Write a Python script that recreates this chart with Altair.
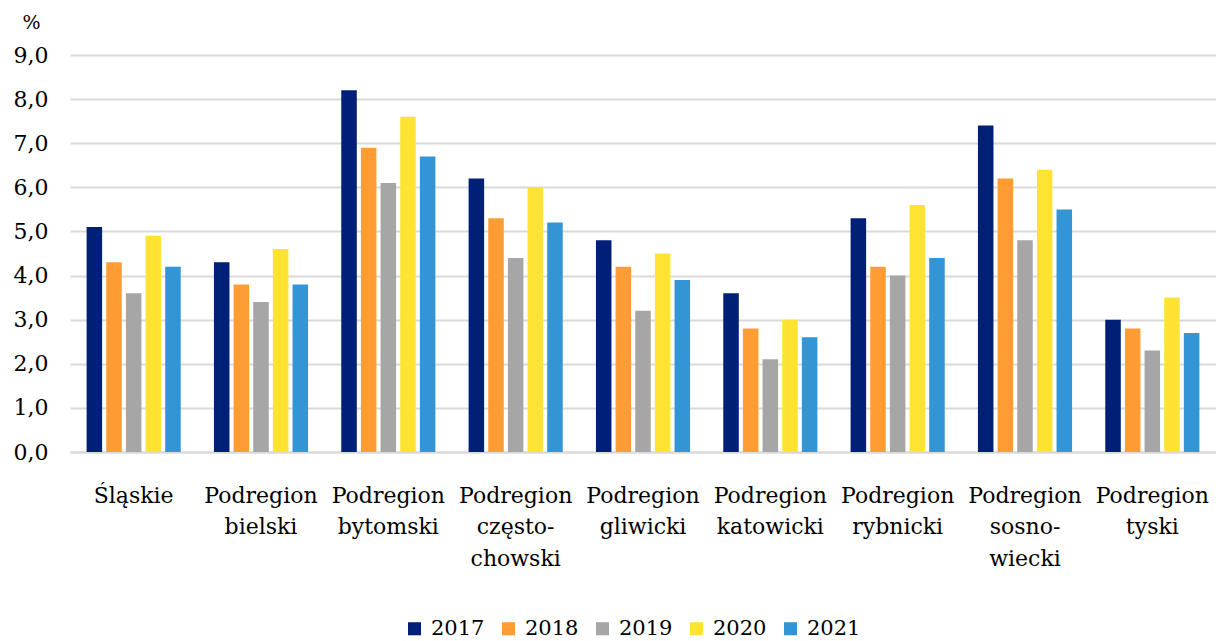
import altair as alt
import pandas as pd

categories = ["Śląskie", "Podregion|bielski", "Podregion|bytomski", "Podregion|często-|chowski",
              "Podregion|gliwicki", "Podregion|katowicki", "Podregion|rybnicki",
              "Podregion|sosno-|wiecki", "Podregion|tyski"]
years = ["2017", "2018", "2019", "2020", "2021"]
v2017 = [5.1, 4.3, 8.2, 6.2, 4.8, 3.6, 5.3, 7.4, 3.0]
v2018 = [4.3, 3.8, 6.9, 5.3, 4.2, 2.8, 4.2, 6.2, 2.8]
v2019 = [3.6, 3.4, 6.1, 4.4, 3.2, 2.1, 4.0, 4.8, 2.3]
v2020 = [4.9, 4.6, 7.6, 6.0, 4.5, 3.0, 5.6, 6.4, 3.5]
v2021 = [4.2, 3.8, 6.7, 5.2, 3.9, 2.6, 4.4, 5.5, 2.7]
colors = ["#002077", "#FF9C33", "#A6A6A6", "#FFE333", "#3395D5"]

rows = []
for y, vals in zip(years, [v2017, v2018, v2019, v2020, v2021]):
    for c, v in zip(categories, vals):
        rows.append({"region": c, "year": y, "value": v})
df = pd.DataFrame(rows)

FONT = "DejaVu Serif"

chart = alt.Chart(df).mark_bar().encode(
    x=alt.X("region:N", sort=categories, title=None,
            scale=alt.Scale(paddingInner=0.23, paddingOuter=0.115),
            axis=alt.Axis(labelAngle=0, labelExpr="split(datum.label, '|')",
                          labelFont=FONT, labelFontSize=22, labelColor="black",
                          labelLineHeight=31.5, labelPadding=33, labelBaseline="top",
                          ticks=False, domain=True, domainColor="#D9D9D9", domainWidth=2,
                          grid=False)),
    xOffset=alt.XOffset("year:N", sort=years,
                        scale=alt.Scale(paddingInner=0.21, paddingOuter=0.1)),
    y=alt.Y("value:Q", scale=alt.Scale(domain=[0, 9], nice=False),
            axis=alt.Axis(values=list(range(10)),
                          labelExpr="replace(format(datum.value, '.1f'), '.', ',')",
                          labelFont=FONT, labelFontSize=22, labelColor="black",
                          labelPadding=22, ticks=False, domain=False,
                          grid=True, gridColor="#D9D9D9", gridWidth=2,
                          title="%", titleAngle=0, titleFont=FONT, titleFontSize=19,
                          titleFontWeight="normal", titleColor="black",
                          titleAlign="left", titleBaseline="middle",
                          titleX=-48, titleY=-33)),
    color=alt.Color("year:N", sort=years, title=None,
                    scale=alt.Scale(domain=years, range=colors),
                    legend=alt.Legend(orient="none", direction="horizontal",
                                      legendX=334, legendY=563,
                                      symbolType="square", symbolSize=170,
                                      symbolStrokeWidth=0,
                                      labelFont=FONT, labelFontSize=21, labelColor="black",
                                      columnPadding=13, labelOffset=6)),
).properties(
    width=1146, height=397,
    autosize=alt.AutoSizeParams(type="none"),
    padding={"left": 62, "top": 47, "right": 0, "bottom": 200},
).configure(font=FONT).configure_view(stroke=None)

chart.save("out.html", embed_options={"renderer": "svg", "actions": False})
